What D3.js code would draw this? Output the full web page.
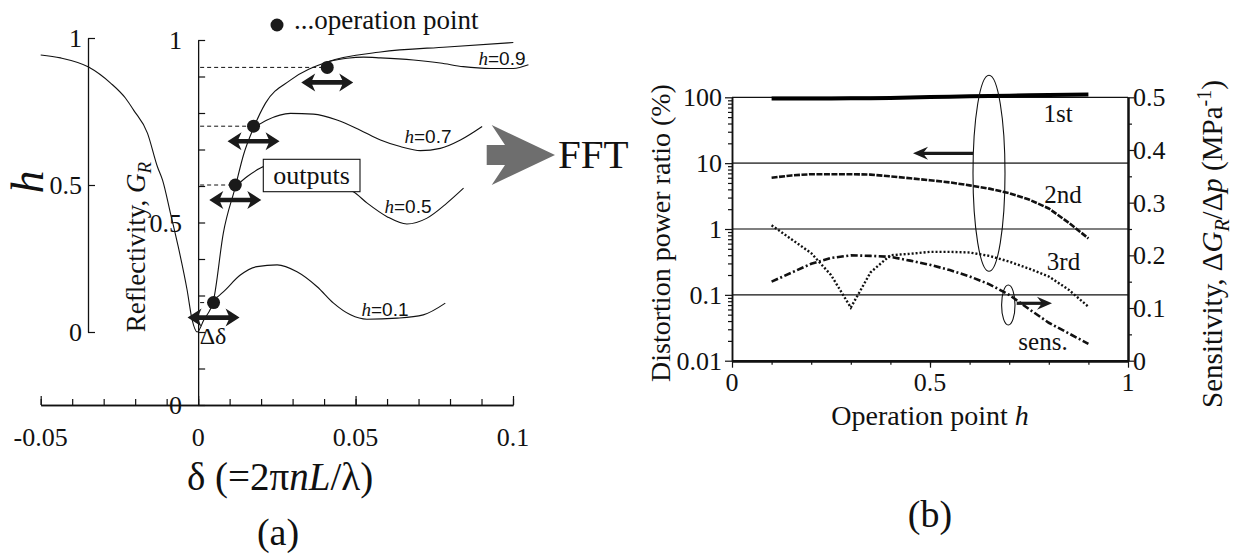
<!DOCTYPE html>
<html>
<head>
<meta charset="utf-8">
<script src="https://cdn.jsdelivr.net/npm/d3@7"></script>
<style>
  body { margin: 0; background: #fff; }
  svg { display: block; }
</style>
</head>
<body>
<svg id="fig" width="1238" height="554"></svg>
<script>
// ---------- Panel (a): reflectivity G_R versus phase delta ----------
// Reflectivity curve as [delta, G_R]
const reflectivityCurve = [
  [-0.0500, 0.959], [-0.0437, 0.951], [-0.0348, 0.926], [-0.0278, 0.882],
  [-0.0231, 0.841], [-0.0205, 0.808], [-0.0161, 0.745], [-0.0129, 0.652],
  [-0.0113, 0.616], [-0.0088, 0.526], [-0.0063, 0.433], [-0.0035, 0.315],
  [-0.0019, 0.233], [-0.0003, 0.200], [0.0018, 0.233], [0.0049, 0.288],
  [0.0080, 0.471], [0.0118, 0.597], [0.0144, 0.685], [0.0176, 0.759],
  [0.0214, 0.827], [0.0293, 0.890], [0.0410, 0.940], [0.0579, 0.967],
  [0.0791, 0.981], [0.1001, 0.993]
];
// Operation points
const opH = [0.1, 0.5, 0.7, 0.9];
const opDelta = [0.0049, 0.0118, 0.0176, 0.0410];
const opLabels = ["0.1", "0.5", "0.7", "0.9"];
// Output waveforms leaving each operation point, [delta, G_R]
const outputH01 = [
  [0.0050, 0.288], [0.0080, 0.310], [0.0134, 0.356], [0.0187, 0.379], [0.0251, 0.384],
  [0.0314, 0.365], [0.0378, 0.324], [0.0430, 0.279], [0.0484, 0.247], [0.0536, 0.235],
  [0.0632, 0.238], [0.0715, 0.247], [0.0785, 0.279]
];
const outputH05 = [
  [0.0118, 0.598], [0.0156, 0.626], [0.0198, 0.649], [0.0208, 0.653], [0.0493, 0.584],
  [0.0537, 0.553], [0.0600, 0.516], [0.0663, 0.496], [0.0727, 0.512], [0.0790, 0.553],
  [0.0843, 0.594]
];
const outputH07 = [
  [0.0177, 0.760], [0.0219, 0.781], [0.0293, 0.799], [0.0366, 0.797], [0.0441, 0.781],
  [0.0515, 0.753], [0.0579, 0.726], [0.0642, 0.708], [0.0706, 0.697], [0.0769, 0.703],
  [0.0833, 0.726], [0.0902, 0.763]
];
const outputH09 = [
  [0.0410, 0.940], [0.0473, 0.950], [0.0525, 0.953], [0.0579, 0.951], [0.0684, 0.945],
  [0.0769, 0.937], [0.0842, 0.927], [0.0928, 0.922], [0.1001, 0.922], [0.1049, 0.932]
];
const deltaTickLabels = [-0.05, 0, 0.05, 0.1];
const deltaTickText = ["-0.05", "0", "0.05", "0.1"];
const gTickLabels = [0, 0.5, 1];
const gTickText = ["0", "0.5", "1"];
const hTickLabels = [0, 0.5, 1];
const hTickText = ["0", "0.5", "1"];

// ---------- Panel (b): distortion power ratio and sensitivity ----------
const hGrid = [0.10, 0.15, 0.20, 0.25, 0.30, 0.35, 0.40, 0.45, 0.50,
               0.55, 0.60, 0.65, 0.70, 0.75, 0.80, 0.85, 0.90];
const first  = [96, 96, 96, 96, 96.5, 97, 98, 99, 101, 102, 104, 105, 106, 107, 108, 109, 110];
const second = [6.0, 6.5, 6.8, 6.8, 6.8, 6.7, 6.3, 5.9, 5.5, 5.1, 4.6, 4.1, 3.5, 2.8, 2.05, 1.25, 0.72];
const third  = [1.14, 0.70, 0.43, 0.20, 0.064, 0.22, 0.40, 0.42, 0.45, 0.45, 0.44, 0.39, 0.32, 0.25, 0.19, 0.12, 0.066];
const sens   = [0.150, 0.167, 0.184, 0.195, 0.200, 0.199, 0.197, 0.190, 0.182, 0.172, 0.160, 0.145, 0.125, 0.098, 0.072, 0.052, 0.032];
const ratioTicks = [0.01, 0.1, 1, 10, 100];
const ratioTickText = ["0.01", "0.1", "1", "10", "100"];
const sensTicks = [0, 0.1, 0.2, 0.3, 0.4, 0.5];
const sensTickText = ["0", "0.1", "0.2", "0.3", "0.4", "0.5"];
const hTicksB = [0, 0.5, 1];
const hTickTextB = ["0", "0.5", "1"];
const seriesNames = ["1st", "2nd", "3rd", "sens."];

const serif = '"Liberation Serif","Times New Roman",serif';
const sans = '"Liberation Sans",Arial,sans-serif';
const ink = "#111";
const svg = d3.select("#fig");

function styleAxis(g, width) {
  g.selectAll("path").attr("stroke", ink).attr("stroke-width", width);
  g.selectAll("line").attr("stroke", ink).attr("stroke-width", 1.2);
  g.selectAll("text").remove();
}

// ================= Panel (a) =================
const xA = d3.scaleLinear().domain([-0.05, 0.1]).range([40.7, 513]);
const yG = d3.scaleLinear().domain([0, 1]).range([405, 40]);
const yH = d3.scaleLinear().domain([0, 1]).range([332, 38]);
const pa = svg.append("g");

// delta axis (ticks point up)
const minorDelta = d3.range(-5, 11).map(i => i / 100);
pa.append("g").attr("transform", "translate(0,405)")
  .call(d3.axisTop(xA).tickValues(minorDelta).tickSize(6).tickSizeOuter(0).tickFormat(""))
  .call(g => styleAxis(g, 1.3));
pa.append("g").attr("transform", "translate(0,405)")
  .call(d3.axisTop(xA).tickValues(deltaTickLabels).tickSize(9).tickSizeOuter(0).tickFormat(""))
  .call(g => styleAxis(g, 1.3));
pa.selectAll(".dlab").data(deltaTickLabels).join("text")
  .attr("x", d => xA(d)).attr("y", 446)
  .attr("text-anchor", "middle").attr("font-family", serif).attr("font-size", 26).attr("fill", ink)
  .text((d, i) => deltaTickText[i]);

// reflectivity axis
pa.append("g").attr("transform", `translate(${xA(0)},0)`)
  .call(d3.axisRight(yG).tickValues(d3.range(0, 11).map(i => i / 10)).tickSize(7).tickSizeOuter(0).tickFormat(""))
  .call(g => styleAxis(g, 1.3));
pa.selectAll(".glab").data(gTickLabels).join("text")
  .attr("x", 182).attr("y", d => yG(d)).attr("dy", "0.35em")
  .attr("text-anchor", "end").attr("font-family", serif).attr("font-size", 26).attr("fill", ink)
  .text((d, i) => gTickText[i]);

// normalised h axis
pa.append("g").attr("transform", "translate(88,0)")
  .call(d3.axisRight(yH).tickValues(hTickLabels).tickSize(7).tickSizeOuter(0).tickFormat(""))
  .call(g => styleAxis(g, 1.3));
pa.selectAll(".hlab").data(hTickLabels).join("text")
  .attr("x", 82).attr("y", d => yH(d)).attr("dy", "0.35em")
  .attr("text-anchor", "end").attr("font-family", serif).attr("font-size", 26).attr("fill", ink)
  .text((d, i) => hTickText[i]);

// axis titles
pa.append("text").attr("transform", "translate(43,182) rotate(-90)")
  .attr("text-anchor", "middle").attr("font-family", serif).attr("font-style", "italic")
  .attr("font-size", 46).attr("fill", ink).text("h");
const gTitle = pa.append("text").attr("transform", "translate(145,247) rotate(-90)")
  .attr("text-anchor", "middle").attr("font-family", serif).attr("font-size", 27).attr("fill", ink);
gTitle.append("tspan").text("Reflectivity, ");
gTitle.append("tspan").attr("font-style", "italic").text("G");
gTitle.append("tspan").attr("font-style", "italic").attr("font-size", 19).attr("dy", 6).text("R");

const xTitle = pa.append("text").attr("x", 280).attr("y", 490)
  .attr("text-anchor", "middle").attr("font-family", serif).attr("font-size", 39).attr("fill", ink);
xTitle.append("tspan").text("\u03b4 (=2\u03c0");
xTitle.append("tspan").attr("font-style", "italic").text("nL");
xTitle.append("tspan").text("/\u03bb)");
pa.append("text").attr("x", 278).attr("y", 545).attr("text-anchor", "middle")
  .attr("font-family", serif).attr("font-size", 38).attr("fill", ink).text("(a)");

// curves
const lineA = d3.line().x(d => xA(d[0])).y(d => yG(d[1])).curve(d3.curveMonotoneX);
const curveStyle = p => p.attr("fill", "none").attr("stroke", ink).attr("stroke-width", 1.1);
pa.append("path").datum(reflectivityCurve).attr("d", lineA).call(curveStyle);
[outputH01, outputH05, outputH07, outputH09].forEach(c =>
  pa.append("path").datum(c).attr("d", lineA).call(curveStyle));

// dashed guides from the reflectivity axis to each operation point
pa.selectAll(".guide").data(opH).join("line")
  .attr("x1", xA(0) + 2).attr("x2", (d, i) => xA(opDelta[i]))
  .attr("y1", d => yH(d)).attr("y2", d => yH(d))
  .attr("stroke", ink).attr("stroke-width", 1).attr("stroke-dasharray", "4,3");

// double-headed arrows (delta excursion) under each point
function doubleArrow(g, cx, cy, half) {
  const hl = 14, hw = 9, sw = 2.3;
  const p = d3.path();
  p.moveTo(cx - half, cy);
  p.lineTo(cx - half + hl, cy - hw);
  p.lineTo(cx - half + hl - 3, cy - sw);
  p.lineTo(cx + half - hl + 3, cy - sw);
  p.lineTo(cx + half - hl, cy - hw);
  p.lineTo(cx + half, cy);
  p.lineTo(cx + half - hl, cy + hw);
  p.lineTo(cx + half - hl + 3, cy + sw);
  p.lineTo(cx - half + hl - 3, cy + sw);
  p.lineTo(cx - half + hl, cy + hw);
  p.closePath();
  g.append("path").attr("d", p.toString()).attr("fill", "#1a1a1a");
}
opH.forEach((h, i) => doubleArrow(pa, xA(opDelta[i]), yH(h) + 15, 26));

// operation point markers
pa.selectAll(".op").data(opH).join("circle")
  .attr("cx", (d, i) => xA(opDelta[i])).attr("cy", d => yH(d)).attr("r", 6.5).attr("fill", "#1a1a1a");

// curve labels h=...
const labPos = [[385, 316], [408, 213], [428, 143], [502, 65]];
labPos.forEach((p, i) => {
  const t = pa.append("text").attr("x", p[0]).attr("y", p[1]).attr("text-anchor", "middle")
    .attr("font-size", 19).attr("fill", ink);
  t.append("tspan").attr("font-family", serif).attr("font-style", "italic").text("h");
  t.append("tspan").attr("font-family", sans).text("=" + opLabels[i]);
});

// delta-delta label
pa.append("text").attr("x", 213).attr("y", 344).attr("text-anchor", "middle")
  .attr("font-family", serif).attr("font-size", 24).attr("fill", ink).text("\u0394\u03b4");

// legend: operation point
pa.append("circle").attr("cx", 277).attr("cy", 25).attr("r", 6.5).attr("fill", "#1a1a1a");
pa.append("text").attr("x", 294).attr("y", 29).attr("font-family", serif).attr("font-size", 27)
  .attr("fill", ink).text("...operation point");

// "outputs" box
pa.append("rect").attr("x", 263.3).attr("y", 159.3).attr("width", 96.7).attr("height", 32.4)
  .attr("fill", "#fff").attr("stroke", ink).attr("stroke-width", 1.1);
pa.append("text").attr("x", 311.6).attr("y", 184).attr("text-anchor", "middle")
  .attr("font-family", serif).attr("font-size", 26).attr("fill", ink).text("outputs");

// FFT block arrow
svg.append("path")
  .attr("d", "M486.7,145 L505,145 L491.7,125 L555,155 L491.7,185 L505,165 L486.7,165 Z")
  .attr("fill", "#6e6e6e");
svg.append("text").attr("x", 558).attr("y", 168).attr("font-family", serif).attr("font-size", 41)
  .attr("fill", ink).text("FFT");

// ================= Panel (b) =================
const xB = d3.scaleLinear().domain([0, 1]).range([732, 1128]);
const yR = d3.scaleLog().domain([0.01, 100]).range([360.7, 97.3]);
const yS = d3.scaleLinear().domain([0, 0.5]).range([360.7, 97.3]);
const pb = svg.append("g");

// horizontal reference lines
[[10, "#555", 1.6], [1, "#555", 1.6], [0.1, "#111", 1.2], [100, "#111", 1.2]].forEach(r =>
  pb.append("line").attr("x1", xB(0)).attr("x2", xB(1)).attr("y1", yR(r[0])).attr("y2", yR(r[0]))
    .attr("stroke", r[1]).attr("stroke-width", r[2]));

// left log axis
const minorLog = [];
[0.01, 0.1, 1, 10].forEach(b => { for (let k = 2; k <= 9; k++) minorLog.push(b * k); });
pb.append("g").attr("transform", `translate(${xB(0)},0)`)
  .call(d3.axisLeft(yR).tickValues(minorLog).tickSize(4).tickSizeOuter(0).tickFormat(""))
  .call(g => styleAxis(g, 1.5));
pb.append("g").attr("transform", `translate(${xB(0)},0)`)
  .call(d3.axisLeft(yR).tickValues(ratioTicks).tickSize(7).tickSizeOuter(0).tickFormat(""))
  .call(g => styleAxis(g, 1.5));
pb.selectAll(".rlab").data(ratioTicks).join("text")
  .attr("x", 722).attr("y", d => yR(d)).attr("dy", "0.35em").attr("text-anchor", "end")
  .attr("font-family", serif).attr("font-size", 26).attr("fill", ink)
  .text((d, i) => ratioTickText[i]);

// right sensitivity axis
pb.append("g").attr("transform", `translate(${xB(1)},0)`)
  .call(d3.axisRight(yS).tickValues(d3.range(1, 10, 2).map(i => i / 20)).tickSize(4).tickSizeOuter(0).tickFormat(""))
  .call(g => styleAxis(g, 2));
pb.append("g").attr("transform", `translate(${xB(1)},0)`)
  .call(d3.axisRight(yS).tickValues(sensTicks).tickSize(6).tickSizeOuter(0).tickFormat(""))
  .call(g => styleAxis(g, 2));
pb.selectAll(".slab").data(sensTicks).join("text")
  .attr("x", 1133).attr("y", d => yS(d)).attr("dy", "0.35em").attr("text-anchor", "start")
  .attr("font-family", serif).attr("font-size", 26).attr("fill", ink)
  .text((d, i) => sensTickText[i]);

// bottom axis
pb.append("g").attr("transform", "translate(0,360.7)")
  .call(d3.axisBottom(xB).tickValues(d3.range(1, 10).map(i => i / 10)).tickSize(4).tickSizeOuter(0).tickFormat(""))
  .call(g => styleAxis(g, 2.6));
pb.append("g").attr("transform", "translate(0,360.7)")
  .call(d3.axisBottom(xB).tickValues(hTicksB).tickSize(7).tickSizeOuter(0).tickFormat(""))
  .call(g => styleAxis(g, 2.6));
pb.selectAll(".blab").data(hTicksB).join("text")
  .attr("x", d => xB(d)).attr("y", 391).attr("text-anchor", "middle")
  .attr("font-family", serif).attr("font-size", 26).attr("fill", ink)
  .text((d, i) => hTickTextB[i]);

// titles
pb.append("text").attr("transform", "translate(670,233) rotate(-90)")
  .attr("text-anchor", "middle").attr("font-family", serif).attr("font-size", 28).attr("fill", ink)
  .text("Distortion power ratio (%)");
const rt = pb.append("text").attr("transform", "translate(1222,244) rotate(-90)")
  .attr("text-anchor", "middle").attr("font-family", serif).attr("font-size", 29).attr("fill", ink);
rt.append("tspan").text("Sensitivity, \u0394");
rt.append("tspan").attr("font-style", "italic").text("G");
rt.append("tspan").attr("font-style", "italic").attr("font-size", 20).attr("dy", 7).text("R");
rt.append("tspan").attr("dy", -7).text("/\u0394");
rt.append("tspan").attr("font-style", "italic").text("p");
rt.append("tspan").text(" (MPa");
rt.append("tspan").attr("font-size", 20).attr("dy", -11).text("-1");
rt.append("tspan").attr("dy", 11).text(")");
const bt = pb.append("text").attr("x", 930).attr("y", 425).attr("text-anchor", "middle")
  .attr("font-family", serif).attr("font-size", 28).attr("fill", ink);
bt.append("tspan").text("Operation point ");
bt.append("tspan").attr("font-style", "italic").text("h");
pb.append("text").attr("x", 930).attr("y", 527).attr("text-anchor", "middle")
  .attr("font-family", serif).attr("font-size", 38).attr("fill", ink).text("(b)");

// series
const lineR = d3.line().x((d, i) => xB(hGrid[i])).y(d => yR(d));
const lineS = d3.line().x((d, i) => xB(hGrid[i])).y(d => yS(d));
pb.append("path").datum(first).attr("d", lineR).attr("fill", "none").attr("stroke", "#000").attr("stroke-width", 4);
pb.append("path").datum(second).attr("d", lineR).attr("fill", "none").attr("stroke", "#111")
  .attr("stroke-width", 2.6).attr("stroke-dasharray", "6,1.5");
pb.append("path").datum(third).attr("d", lineR).attr("fill", "none").attr("stroke", "#111")
  .attr("stroke-width", 2.4).attr("stroke-dasharray", "2,2");
pb.append("path").datum(sens).attr("d", lineS).attr("fill", "none").attr("stroke", "#111")
  .attr("stroke-width", 2.6).attr("stroke-dasharray", "7,2.5,2,2.5");

// series names
const namePos = [[1058, 122], [1063, 203], [1063.5, 270], [1043, 350]];
namePos.forEach((p, i) => pb.append("text").attr("x", p[0]).attr("y", p[1]).attr("text-anchor", "middle")
  .attr("font-family", serif).attr("font-size", 25).attr("fill", ink).text(seriesNames[i]));

// axis-assignment ellipses and arrows
pb.append("ellipse").attr("cx", 989).attr("cy", 173.3).attr("rx", 16).attr("ry", 98)
  .attr("fill", "none").attr("stroke", ink).attr("stroke-width", 1.1);
pb.append("ellipse").attr("cx", 1008.3).attr("cy", 305).attr("rx", 6.7).attr("ry", 20)
  .attr("fill", "none").attr("stroke", ink).attr("stroke-width", 1.1);
function singleArrow(g, x1, x2, y) {
  const dir = Math.sign(x2 - x1), hl = 15, hw = 6.5;
  g.append("line").attr("x1", x1).attr("x2", x2 - dir * 8).attr("y1", y).attr("y2", y)
    .attr("stroke", "#1a1a1a").attr("stroke-width", 3.2);
  g.append("path").attr("d", `M${x2},${y} L${x2 - dir * hl},${y - hw} L${x2 - dir * 10},${y} L${x2 - dir * hl},${y + hw} Z`)
    .attr("fill", "#1a1a1a");
}
singleArrow(pb, 973, 913, 153.3);
singleArrow(pb, 1016.7, 1052, 303.3);
</script>
</body>
</html>
